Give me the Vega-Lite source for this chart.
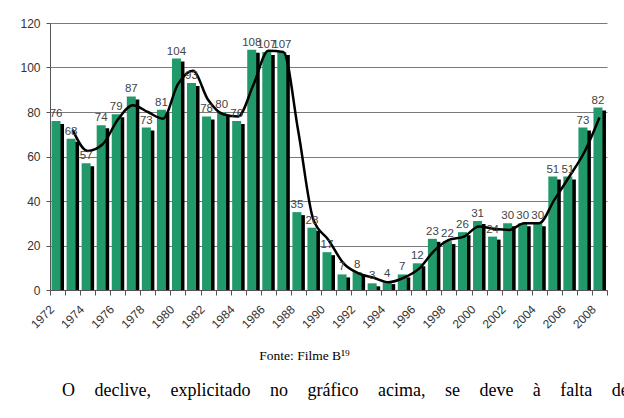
{
  "$schema": "https://vega.github.io/schema/vega-lite/v6.json",
  "width": 557,
  "height": 267,
  "autosize": {"type": "none"},
  "padding": {"left": 50, "top": 23, "right": 17, "bottom": 128},
  "background": "white",
  "config": {"view": {"stroke": null}, "font": "Liberation Sans"},
  "title": {
    "text": "O\u00a0\u00a0\u00a0\u200a declive,\u00a0\u00a0\u00a0\u200a explicitado\u00a0\u00a0\u00a0\u200a no\u00a0\u00a0\u00a0\u200a gráfico\u00a0\u00a0\u00a0\u200a acima,\u00a0\u00a0\u00a0\u200a se\u00a0\u00a0\u00a0\u200a deve\u00a0\u00a0\u00a0\u200a à\u00a0\u00a0\u00a0\u200a falta\u00a0\u00a0\u00a0\u200a de",
    "orient": "bottom",
    "anchor": "start",
    "frame": "group",
    "dx": 12,
    "offset": 20,
    "limit": 2000,
    "font": "Liberation Serif",
    "fontSize": 18,
    "fontWeight": "normal",
    "color": "#000000"
  },
  "data": {
    "values": [
      {"ano": 1972, "publico": 76},
      {"ano": 1973, "publico": 68, "media": 72},
      {"ano": 1974, "publico": 57, "media": 62.5},
      {"ano": 1975, "publico": 74, "media": 65.5},
      {"ano": 1976, "publico": 79, "media": 76.5},
      {"ano": 1977, "publico": 87, "media": 83},
      {"ano": 1978, "publico": 73, "media": 80},
      {"ano": 1979, "publico": 81, "media": 77},
      {"ano": 1980, "publico": 104, "media": 92.5},
      {"ano": 1981, "publico": 93, "media": 98.5},
      {"ano": 1982, "publico": 78, "media": 85.5},
      {"ano": 1983, "publico": 80, "media": 79},
      {"ano": 1984, "publico": 76, "media": 78},
      {"ano": 1985, "publico": 108, "media": 92},
      {"ano": 1986, "publico": 107, "media": 107.5},
      {"ano": 1987, "publico": 107, "media": 107},
      {"ano": 1988, "publico": 35, "media": 71},
      {"ano": 1989, "publico": 28, "media": 31.5},
      {"ano": 1990, "publico": 17, "media": 22.5},
      {"ano": 1991, "publico": 7, "media": 12},
      {"ano": 1992, "publico": 8, "media": 7.5},
      {"ano": 1993, "publico": 3, "media": 5.5},
      {"ano": 1994, "publico": 4, "media": 3.5},
      {"ano": 1995, "publico": 7, "media": 5.5},
      {"ano": 1996, "publico": 12, "media": 9.5},
      {"ano": 1997, "publico": 23, "media": 17.5},
      {"ano": 1998, "publico": 22, "media": 22.5},
      {"ano": 1999, "publico": 26, "media": 24},
      {"ano": 2000, "publico": 31, "media": 28.5},
      {"ano": 2001, "publico": 24, "media": 27.5},
      {"ano": 2002, "publico": 30, "media": 27},
      {"ano": 2003, "publico": 30, "media": 30},
      {"ano": 2004, "publico": 30, "media": 30},
      {"ano": 2005, "publico": 51, "media": 40.5},
      {"ano": 2006, "publico": 51, "media": 51},
      {"ano": 2007, "publico": 73, "media": 62},
      {"ano": 2008, "publico": 82, "media": 77.5}
    ]
  },
  "encoding": {
    "x": {
      "field": "ano",
      "type": "ordinal",
      "scale": {"paddingInner": 0, "paddingOuter": 0},
      "axis": {
        "title": "Fonte: Filme B¹⁹",
        "titleFont": "Liberation Serif",
        "titleFontSize": 13.5,
        "titleFontWeight": "normal",
        "titleColor": "#000000",
        "titleX": 254,
        "titleY": 69,
        "titleAlign": "center",
        "titleBaseline": "alphabetic",
        "labelAngle": -45,
        "labelAlign": "right",
        "labelBaseline": "middle",
        "labelFontSize": 12,
        "labelColor": "#333333",
        "labelPadding": 12,
        "labelOffset": -6,
        "labelExpr": "datum.value % 2 == 0 ? datum.label : ''",
        "tickBand": "extent",
        "tickSize": 5,
        "tickColor": "#555555",
        "domainColor": "#555555",
        "zindex": 1
      }
    }
  },
  "layer": [
    {
      "mark": {"type": "bar", "color": "#000000", "width": 9, "xOffset": 2, "yOffset": 3, "clip": true},
      "encoding": {
        "y": {
          "field": "publico",
          "type": "quantitative",
          "scale": {"domain": [0, 120]},
          "axis": {
            "title": null,
            "values": [0, 20, 40, 60, 80, 100, 120],
            "labelFontSize": 12,
            "labelColor": "#333333",
            "labelPadding": 6,
            "tickSize": 4,
            "tickColor": "#555555",
            "domainColor": "#555555",
            "gridColor": "#7a7a7a",
            "gridWidth": 1
          }
        }
      }
    },
    {
      "mark": {"type": "bar", "color": "#22996b", "width": 9, "xOffset": -1.5},
      "encoding": {"y": {"field": "publico", "type": "quantitative"}}
    },
    {
      "mark": {"type": "line", "color": "#000000", "strokeWidth": 2.5, "interpolate": "monotone"},
      "encoding": {"y": {"field": "media", "type": "quantitative"}}
    },
    {
      "mark": {"type": "text", "baseline": "bottom", "dy": -2, "xOffset": -1.5, "fontSize": 11.5, "color": "#444444"},
      "encoding": {
        "y": {"field": "publico", "type": "quantitative"},
        "text": {"field": "publico", "type": "quantitative"}
      }
    }
  ]
}
